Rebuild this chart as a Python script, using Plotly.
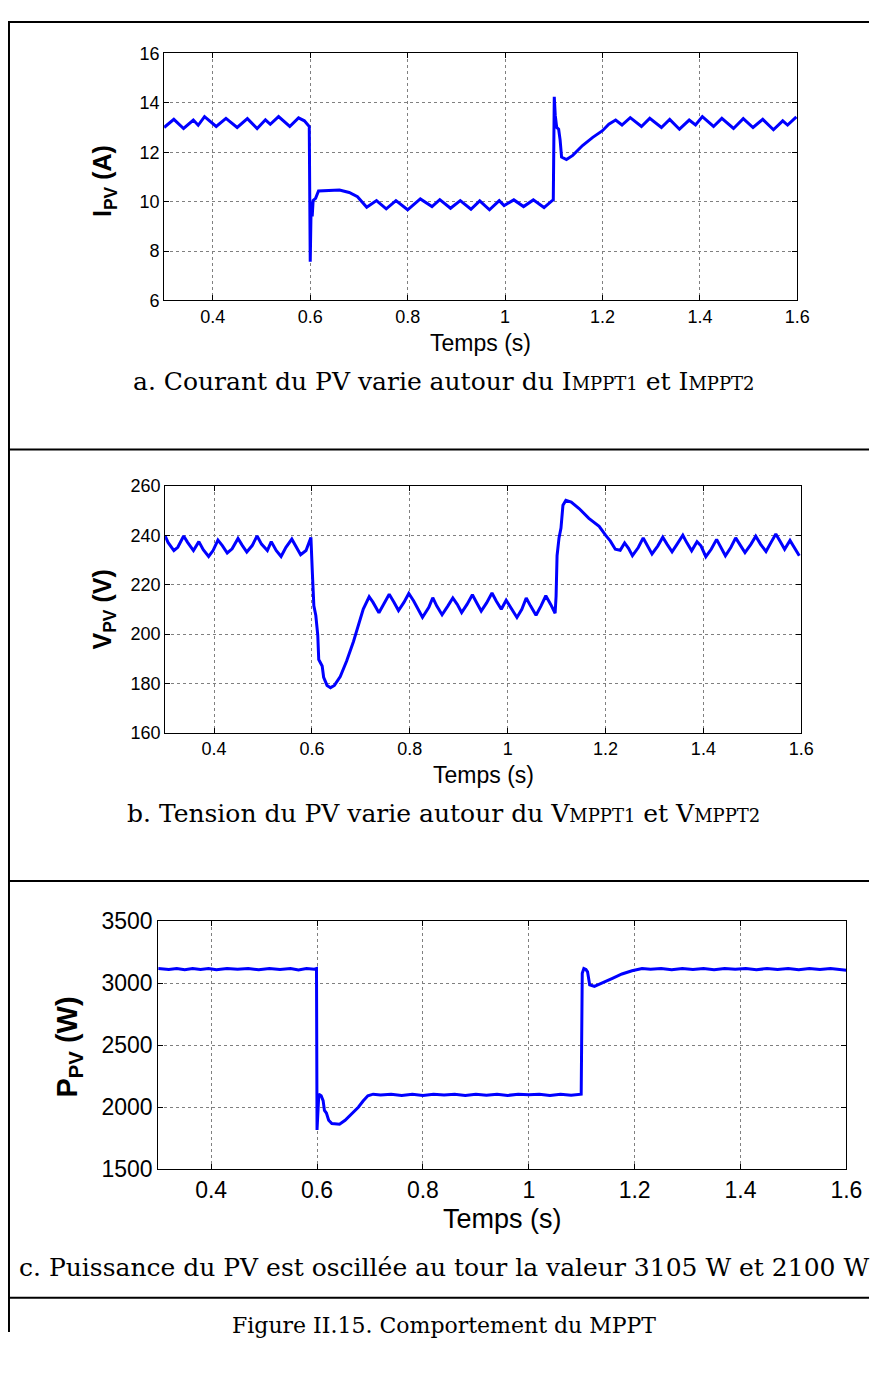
import plotly.graph_objects as go

# the page puts the graph 8px from the left and ~20px from the top,
# so the figure is sized to fit the window and positions are shifted by that
W, H = 877, 1337
OX, OY = 8, 20

# --- data ---
t_current = [0.300, 0.320, 0.340, 0.360, 0.370, 0.383, 0.407, 0.427, 0.450, 0.471,
             0.491, 0.508, 0.518, 0.535, 0.558, 0.576, 0.588, 0.598, 0.600, 0.602,
             0.604, 0.606, 0.611, 0.617, 0.660, 0.680, 0.697, 0.716, 0.736, 0.756,
             0.776, 0.800, 0.826, 0.850, 0.866, 0.888, 0.908, 0.930, 0.948, 0.968,
             0.988, 0.998, 1.018, 1.038, 1.058, 1.080, 1.096, 1.099, 1.101, 1.103,
             1.106, 1.110, 1.113, 1.116, 1.126, 1.139, 1.159, 1.180, 1.200, 1.213,
             1.227, 1.240, 1.257, 1.280, 1.297, 1.321, 1.338, 1.358, 1.378, 1.391,
             1.405, 1.428, 1.445, 1.469, 1.489, 1.509, 1.529, 1.551, 1.570, 1.580, 1.598]
i_pv = [13.00, 13.33, 12.96, 13.30, 13.09, 13.44, 13.04, 13.37, 13.00, 13.36,
        12.96, 13.31, 13.13, 13.44, 13.04, 13.39, 13.27, 13.04, 7.57, 10.00,
        9.40, 10.05, 10.13, 10.43, 10.47, 10.37, 10.20, 9.77, 10.04, 9.71,
        10.04, 9.67, 10.11, 9.80, 10.08, 9.73, 10.04, 9.69, 10.03, 9.67,
        10.04, 9.84, 10.07, 9.80, 10.07, 9.76, 10.03, 10.07, 14.24, 13.50,
        13.00, 12.93, 12.50, 11.80, 11.70, 11.87, 12.27, 12.60, 12.87, 13.13,
        13.30, 13.10, 13.40, 13.04, 13.37, 13.00, 13.33, 12.93, 13.30, 13.10,
        13.44, 13.04, 13.37, 12.96, 13.36, 13.00, 13.33, 12.91, 13.27, 13.10, 13.43]

t_voltage = [0.300, 0.306, 0.318, 0.326, 0.338, 0.346, 0.358, 0.369, 0.378, 0.389,
             0.398, 0.408, 0.417, 0.427, 0.437, 0.449, 0.458, 0.467, 0.478, 0.488,
             0.497, 0.509, 0.517, 0.527, 0.537, 0.547, 0.559, 0.567, 0.577, 0.588,
             0.598, 0.601, 0.604, 0.608, 0.612, 0.614, 0.621, 0.624, 0.631, 0.638,
             0.646, 0.658, 0.671, 0.685, 0.698, 0.705, 0.717, 0.725, 0.737, 0.748,
             0.758, 0.768, 0.777, 0.788, 0.798, 0.808, 0.817, 0.826, 0.839, 0.847,
             0.855, 0.866, 0.878, 0.888, 0.897, 0.906, 0.917, 0.928, 0.937, 0.946,
             0.957, 0.968, 0.977, 0.987, 0.997, 1.007, 1.019, 1.029, 1.038, 1.047,
             1.058, 1.068, 1.078, 1.088, 1.097, 1.099, 1.101, 1.105, 1.109, 1.113,
             1.119, 1.130, 1.146, 1.166, 1.187, 1.200, 1.210, 1.220, 1.230, 1.239,
             1.247, 1.255, 1.267, 1.277, 1.286, 1.295, 1.307, 1.317, 1.326, 1.336,
             1.346, 1.358, 1.366, 1.376, 1.387, 1.395, 1.405, 1.416, 1.427, 1.436,
             1.445, 1.456, 1.466, 1.475, 1.485, 1.497, 1.507, 1.517, 1.528, 1.538,
             1.548, 1.557, 1.566, 1.577, 1.586, 1.596]
v_pv = [239.7, 237.1, 233.8, 235.1, 239.7, 237.1, 233.8, 237.4, 234.1, 231.4,
        233.8, 238.0, 235.8, 232.8, 234.5, 238.7, 235.8, 233.2, 235.8, 239.7,
        236.4, 233.8, 237.4, 233.8, 231.4, 235.1, 238.4, 235.4, 232.1, 233.8,
        239.1, 224.6, 211.4, 207.5, 199.6, 189.7, 187.1, 182.5, 179.2, 178.3,
        179.2, 182.8, 189.1, 197.0, 204.9, 210.1, 215.1, 212.8, 208.6, 212.8,
        216.1, 212.8, 209.5, 212.8, 216.4, 213.4, 210.1, 206.8, 210.8, 214.7,
        211.4, 207.8, 211.4, 214.6, 212.0, 208.7, 212.0, 215.9, 212.6, 209.3,
        212.6, 216.6, 213.3, 210.0, 213.7, 210.7, 206.7, 210.0, 214.6, 211.3,
        207.6, 211.3, 215.5, 212.0, 208.4, 215.3, 231.7, 238.9, 242.9, 252.1,
        254.1, 253.4, 250.8, 246.8, 243.6, 240.0, 237.6, 234.3, 233.9, 236.9,
        234.7, 231.7, 235.0, 238.9, 235.7, 232.4, 235.7, 239.2, 236.3, 233.3,
        236.3, 240.0, 237.0, 233.7, 237.4, 235.7, 231.3, 234.3, 238.3, 235.0,
        231.7, 235.0, 238.9, 236.1, 233.0, 236.3, 239.6, 236.3, 233.4, 237.0,
        240.5, 237.4, 234.3, 237.9, 234.7, 231.7]

t_power = [0.300, 0.320, 0.335, 0.350, 0.365, 0.380, 0.395, 0.410, 0.430, 0.450,
           0.470, 0.490, 0.510, 0.530, 0.550, 0.565, 0.580, 0.595, 0.599, 0.600,
           0.6034, 0.6078, 0.6115, 0.614, 0.6177, 0.622, 0.628, 0.6425, 0.653, 0.665,
           0.678, 0.687, 0.696, 0.706, 0.720, 0.740, 0.760, 0.780, 0.800, 0.820,
           0.840, 0.860, 0.880, 0.900, 0.920, 0.940, 0.960, 0.980, 1.000, 1.020,
           1.040, 1.060, 1.080, 1.099, 1.101, 1.104, 1.108, 1.111, 1.115, 1.124,
           1.139, 1.158, 1.176, 1.195, 1.214, 1.230, 1.250, 1.270, 1.290, 1.310,
           1.330, 1.350, 1.370, 1.390, 1.410, 1.430, 1.450, 1.470, 1.490, 1.510,
           1.530, 1.550, 1.570, 1.585, 1.600]
p_pv = [3118, 3110, 3118, 3108, 3118, 3110, 3118, 3108, 3118, 3112,
        3118, 3108, 3118, 3110, 3118, 3106, 3118, 3112, 3118, 1816,
        2105, 2092, 2053, 1974, 1953, 1895, 1868, 1863, 1895, 1947,
        2000, 2050, 2092, 2105, 2098, 2105, 2095, 2105, 2095, 2105,
        2098, 2105, 2095, 2105, 2097, 2105, 2095, 2105, 2100, 2105,
        2094, 2105, 2096, 2105, 3079, 3118, 3110, 3092, 2987, 2974,
        3000, 3039, 3074, 3100, 3118, 3112, 3118, 3108, 3118, 3110,
        3118, 3108, 3118, 3112, 3118, 3108, 3118, 3110, 3118, 3108,
        3118, 3110, 3118, 3112, 3105]

x_ticks = [0.4, 0.6, 0.8, 1.0, 1.2, 1.4, 1.6]
x_ticktext = ["0.4", "0.6", "0.8", "1", "1.2", "1.4", "1.6"]


def fx(px):
    # px is a pixel column of the reference picture
    return (px - OX) / W


def fy(py):
    # py is a pixel row of the reference picture
    return 1 - (py - OY) / H


fig = go.Figure()
fig.add_trace(go.Scatter(x=t_current, y=i_pv, mode="lines", xaxis="x", yaxis="y",
                         line=dict(color="#0000ff", width=3)))
fig.add_trace(go.Scatter(x=t_voltage, y=v_pv, mode="lines", xaxis="x2", yaxis="y2",
                         line=dict(color="#0000ff", width=3)))
fig.add_trace(go.Scatter(x=t_power, y=p_pv, mode="lines", xaxis="x3", yaxis="y3",
                         line=dict(color="#0000ff", width=3)))


def ax(domain, rng, size, **kw):
    return dict(domain=domain, range=rng, showline=True, linecolor="black", linewidth=1,
                mirror="allticks", ticks="inside", ticklen=5, tickcolor="black",
                showgrid=True, gridcolor="#808080", gridwidth=1, griddash="dot",
                zeroline=False, tickfont=dict(family="Liberation Sans", size=size, color="black"),
                **kw)


panels = [
    # (x0, x1, top, bottom)
    (167, 812, 53, 305),
    (168, 816, 494, 746),
    (161, 862, 938, 1191),
]
ranges = [[6, 16], [160, 260], [1500, 3500]]
ydt = [2, 20, 500]
fsz = [18, 18, 23]

layout = {}
for k, ((x0, x1, top, bot), yr, dt, fs) in enumerate(zip(panels, ranges, ydt, fsz)):
    s = "" if k == 0 else str(k + 1)
    layout["xaxis" + s] = ax([fx(x0), fx(x1)], [0.3, 1.6], fs, anchor="y" + s,
                             tickvals=x_ticks, ticktext=x_ticktext)
    layout["yaxis" + s] = ax([fy(bot), fy(top)], yr, fs, anchor="x" + s, dtick=dt)

fig.update_layout(**layout)

ann = []
# x titles
for (x0, x1, top, bot), fs, dy in zip(panels, [23, 23, 27], [43, 43, 51]):
    ann.append(dict(x=fx((x0 + x1) / 2), y=fy(bot + dy),
                    text="Temps (s)", font=dict(family="Liberation Sans", size=fs, color="black")))
# y titles
ylabels = ["<b>I<sub>PV</sub> (A)</b>", "<b>V<sub>PV</sub> (V)</b>", "<b>P<sub>PV</sub> (W)</b>"]
ypos = [(106, 183), (106, 620), (70, 1066)]
ysz = [25, 25, 29]
for lab, (px, py), fs in zip(ylabels, ypos, ysz):
    ann.append(dict(x=fx(px), y=fy(py), text=lab, textangle=-90,
                    font=dict(family="Liberation Sans", size=fs, color="black")))

sc = "<span style='font-size:18px'>"
captions = [
    ("a. Courant du PV varie autour du I" + sc + "MPPT1</span> et I" + sc + "MPPT2</span>", 388, 25),
    ("b. Tension du PV varie autour du V" + sc + "MPPT1</span> et V" + sc + "MPPT2</span>", 828, 25),
    ("c. Puissance du PV est oscillée au tour la valeur 3105 W et 2100 W", 1291, 25),
    ("Figure II.15. Comportement du MPPT", 1350, 22),
]
for txt, py, fs in captions:
    ann.append(dict(x=fx(452), y=fy(py), text=txt,
                    font=dict(family="DejaVu Serif", size=fs, color="black")))

for a in ann:
    a.update(xref="paper", yref="paper", showarrow=False, xanchor="center", yanchor="middle")

# table frame
shapes = []
for py in [OY + 1, 457, 897, 1322]:
    shapes.append(dict(type="line", xref="paper", yref="paper",
                       x0=fx(9), x1=1.0, y0=fy(py), y1=fy(py),
                       line=dict(color="black", width=2)))
shapes.append(dict(type="line", xref="paper", yref="paper",
                   x0=fx(9), x1=fx(9), y0=fy(OY), y1=0,
                   line=dict(color="black", width=2)))

fig.update_layout(width=W, height=H, margin=dict(l=0, r=0, t=0, b=0),
                  paper_bgcolor="white", plot_bgcolor="white", showlegend=False,
                  annotations=ann, shapes=shapes,
                  font=dict(family="Liberation Sans", color="black"))

fig.write_html("out.html", config={"displayModeBar": False})
